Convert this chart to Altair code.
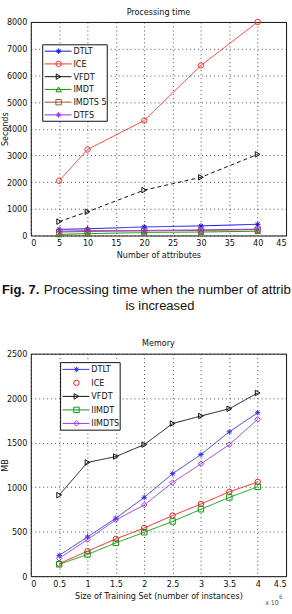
import altair as alt
import pandas as pd

# ---- Processing time vs number of attributes ----
attrs = [5, 10, 20, 30, 40]
time_dtlt = [230, 250, 320, 360, 420]
time_ice = [2050, 3220, 4310, 6370, 8000]
time_vfdt = [520, 890, 1700, 2180, 3040]
time_imdt = [40, 70, 110, 130, 160]
time_imdts5 = [130, 150, 170, 190, 220]
time_dtfs = [160, 180, 190, 210, 240]

# ---- Memory vs size of training set (x 10^6 instances) ----
sizes = [0.5, 1, 1.5, 2, 2.5, 3, 3.5, 4]
mem_dtlt = [233, 441, 652, 885, 1152, 1367, 1622, 1837]
mem_ice = [141, 281, 419, 541, 681, 811, 948, 1059]
mem_vfdt = [911, 1278, 1344, 1478, 1715, 1800, 1881, 2059]
mem_iimdt = [133, 244, 374, 493, 615, 752, 885, 1004]
mem_iimdts = [200, 411, 633, 800, 1052, 1263, 1478, 1763]

FONT = "Liberation Sans Narrow, DejaVu Sans Condensed, Liberation Sans, sans-serif"
CAPTION_FONT = "Liberation Sans, Arial, sans-serif"

# marker glyphs (unit-square symbol paths or built-in names)
STAR = "M0,-1V1M-1,0H1M-0.7,-0.7L0.7,0.7M-0.7,0.7L0.7,-0.7"
MARKERS = {
    "star": STAR,
    "circle": "circle",
    "tri_r": "triangle-right",
    "tri_u": "triangle-up",
    "square": "square",
    "diamond": "diamond",
}

one = alt.Data(values=[{}])


def long_frame(xs, series):
    rows = []
    for name, values in series:
        for x, v in zip(xs, values):
            rows.append({"x": x, "value": v, "series": name})
    return pd.DataFrame(rows)


def legend_layers(styles, color_scale, box):
    """Boxed legend (line sample + marker + label) drawn on its own pixel scales."""
    left, top, w, h = box
    n = len(styles)
    lx = alt.Scale(domain=[0, w], range=[left, left + w], nice=False, zero=False)
    ly = alt.Scale(domain=[0, n], range=[top, top + h], nice=False, zero=False)
    ldf = pd.DataFrame({
        "series": [s["name"] for s in styles],
        "row": list(range(n)),
        "line": [s.get("line", True) for s in styles],
    })
    base = alt.Chart(ldf).transform_calculate(yr="datum.row + 0.5")

    frame_box = alt.Chart(alt.Data(values=[{"x0": 0, "x1": w, "y0": 0, "y1": n}])).mark_rect(
        fill="white", stroke="#111", strokeWidth=1
    ).encode(
        x=alt.X("x0:Q", scale=lx, axis=None), x2="x1:Q",
        y=alt.Y("y0:Q", scale=ly, axis=None), y2="y1:Q",
    )
    samples = base.transform_filter("datum.line").transform_calculate(
        a="2", b="29"
    ).mark_rule(strokeWidth=1).encode(
        x=alt.X("a:Q", scale=lx, axis=None), x2="b:Q",
        y=alt.Y("yr:Q", scale=ly, axis=None),
        color=alt.Color("series:N", scale=color_scale, legend=None),
    )
    marks = base.transform_calculate(m="16").mark_point(
        filled=False, size=30, strokeWidth=1, opacity=1
    ).encode(
        x=alt.X("m:Q", scale=lx, axis=None),
        y=alt.Y("yr:Q", scale=ly, axis=None),
        color=alt.Color("series:N", scale=color_scale, legend=None),
        shape=alt.Shape("series:N", legend=None, scale=alt.Scale(
            domain=[s["name"] for s in styles],
            range=[MARKERS[s["marker"]] for s in styles])),
    )
    labels = base.transform_calculate(t="31").mark_text(
        align="left", baseline="middle", font=FONT, fontSize=9, color="#111"
    ).encode(
        x=alt.X("t:Q", scale=lx, axis=None),
        y=alt.Y("yr:Q", scale=ly, axis=None),
        text="series:N",
    )
    return [frame_box, samples, marks, labels]


def panel(df, styles, x_values, x_domain, y_values, y_domain, x_title, y_title,
          legend_box, height, dashed=None, x_format="d"):
    names = [s["name"] for s in styles]
    colors = [s["color"] for s in styles]
    color_scale = alt.Scale(domain=names, range=colors)
    x_scale = alt.Scale(domain=x_domain, nice=False, zero=False)
    y_scale = alt.Scale(domain=y_domain, nice=False)

    X = alt.X("x:Q", scale=x_scale,
              axis=alt.Axis(values=x_values, format=x_format, title=x_title,
                            grid=True, gridDash=[1, 3], gridColor="#222",
                            gridOpacity=0.8, ticks=False, domain=False,
                            labelFont=FONT, labelFontSize=9, labelPadding=3,
                            labelColor="#111", titleFont=FONT, titleFontSize=9,
                            titleFontWeight="normal", titleColor="#111",
                            titlePadding=3))
    Y = alt.Y("value:Q", scale=y_scale,
              axis=alt.Axis(values=y_values, format="d", title=y_title,
                            grid=True, gridDash=[1, 3], gridColor="#222",
                            gridOpacity=0.8, ticks=False, domain=False,
                            labelFont=FONT, labelFontSize=9, labelPadding=4,
                            labelColor="#111", titleFont=FONT, titleFontSize=9,
                            titleFontWeight="normal", titleColor="#111",
                            titleX=-21))
    Xn = alt.X("x:Q", scale=x_scale, axis=None)
    Yn = alt.Y("value:Q", scale=y_scale, axis=None)

    dash = alt.value([1, 0])
    if dashed:
        dash = alt.condition(alt.datum.series == dashed,
                             alt.value([4, 3]), alt.value([1, 0]))

    lines = alt.Chart(df).mark_line(strokeWidth=1, clip=True).encode(
        x=X, y=Y,
        color=alt.Color("series:N", scale=color_scale, legend=None),
        detail="series:N",
        strokeDash=dash,
    )

    layers = [lines]
    for s in styles:
        pts = alt.Chart(df).transform_filter(
            alt.datum.series == s["name"]
        ).mark_point(shape=MARKERS[s["marker"]], filled=False, size=30,
                     strokeWidth=1, color=s["color"], opacity=1).encode(x=Xn, y=Yn)
        layers.append(pts)

    layers += legend_layers(styles, color_scale, legend_box)

    return alt.layer(*layers).resolve_scale(
        x="independent", y="independent"
    ).properties(width=257, height=height)


top_styles = [
    {"name": "DTLT", "color": "#1010ee", "marker": "star"},
    {"name": "ICE", "color": "#ff3030", "marker": "circle"},
    {"name": "VFDT", "color": "#111111", "marker": "tri_r"},
    {"name": "IMDT", "color": "#109010", "marker": "tri_u"},
    {"name": "IMDTS 5", "color": "#a0502a", "marker": "square"},
    {"name": "DTFS", "color": "#8833dd", "marker": "star"},
]
top_df = long_frame(attrs, [
    ("DTLT", time_dtlt), ("ICE", time_ice), ("VFDT", time_vfdt),
    ("IMDT", time_imdt), ("IMDTS 5", time_imdts5), ("DTFS", time_dtfs),
])

bottom_styles = [
    {"name": "DTLT", "color": "#3333ee", "marker": "star"},
    {"name": "ICE", "color": "#ee2020", "marker": "circle", "line": False},
    {"name": "VFDT", "color": "#111111", "marker": "tri_r"},
    {"name": "IIMDT", "color": "#119911", "marker": "square"},
    {"name": "IIMDTS", "color": "#9933ee", "marker": "diamond"},
]
bottom_df = long_frame(sizes, [
    ("DTLT", mem_dtlt), ("ICE", mem_ice), ("VFDT", mem_vfdt),
    ("IIMDT", mem_iimdt), ("IIMDTS", mem_iimdts),
])

top = panel(top_df, top_styles, list(range(0, 50, 5)), [0, 45],
            list(range(0, 9000, 1000)), [0, 8000],
            "Number of attributes", "Seconds",
            (12, 23, 65, 77), 215, dashed="VFDT")

bottom = panel(bottom_df, bottom_styles, [i / 2 for i in range(10)], [0, 4.5],
               list(range(0, 3000, 500)), [0, 2500],
               "Size of Training Set (number of instances)", "MB",
               (30, 9, 60, 68), 224, x_format="~g")


def note(text, x, y, size, weight="normal", font=CAPTION_FONT, align="left",
         color="#111", limit=0):
    kw = {"limit": limit, "ellipsis": "\u200b"} if limit else {}
    return alt.Chart(one).mark_text(
        text=text, font=font, fontSize=size, fontWeight=weight, align=align,
        baseline="alphabetic", color=color, **kw
    ).encode(x=alt.value(x), y=alt.value(y))


def frame(x1, x2, y1, y2):
    # invisible rule that fixes the page margins around a panel
    return alt.Chart(one).mark_rule(strokeOpacity=0, opacity=0).encode(
        x=alt.value(x1), x2=alt.value(x2), y=alt.value(y1), y2=alt.value(y2))


# panel title and figure caption of the first panel
# (the page column ends at the right edge, cutting the caption's first line)
top = alt.layer(
    top,
    frame(-30, 262, -19, 0),
    note("Processing time", 128.5, -7.5, 9, font=FONT, align="center"),
    note("Fig. 7.", -29, 274, 13, weight="bold"),
    note("Processing time when the number of attributes", 13, 274, 13.3,
         limit=251),
    note("is increased", 130, 290, 13, align="center"),
)

# panel title and scale multiplier of the memory panel's x axis
bottom = alt.layer(
    bottom,
    frame(-30, 262, 0, 261),
    note("Memory", 128.5, -7.5, 9, font=FONT, align="center"),
    note("x 10", 236, 253, 7, font=FONT, color="#555"),
    note("6", 250, 247, 6, font=FONT, color="#555"),
)

chart = alt.vconcat(top, bottom, spacing=119, bounds="flush").resolve_scale(
    color="independent", shape="independent", strokeDash="independent"
).properties(
    padding=0,
).configure_view(stroke="#111", strokeWidth=1)

chart.save("out.html", embed_options={"renderer": "svg", "actions": False})
